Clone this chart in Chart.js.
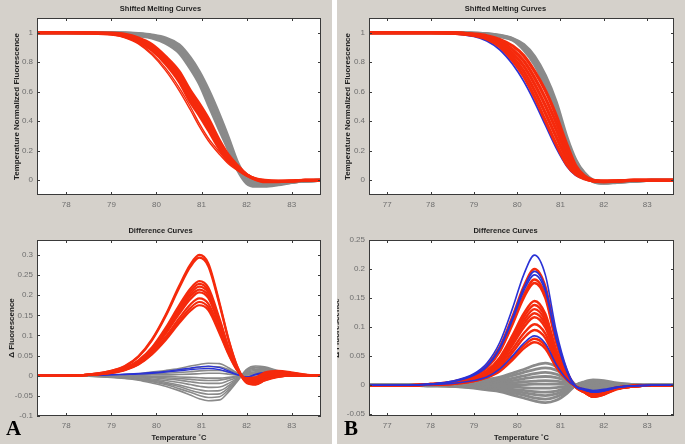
<!DOCTYPE html>
<html>
<head>
<meta charset="utf-8">
<script src="https://cdn.jsdelivr.net/npm/chart.js@4.4.0/dist/chart.umd.min.js"></script>
<style>
  body { margin: 0; background: #d5d1cb; }
  #wrap { position: relative; width: 685px; height: 444px; overflow: hidden; background: #d5d1cb; }
  .box { position: absolute; }
  .box canvas { display: block; }
  .sep { position: absolute; left: 332px; top: 0; width: 5px; height: 444px; background: #fff; }
  .tag { position: absolute; font: bold 21px "Liberation Serif", serif; color: #000; line-height: 1; }
</style>
</head>
<body>
<div id="wrap">
  <div class="box" style="left:0;top:0"><canvas id="aTop" width="332" height="220"></canvas></div>
  <div class="box" style="left:0;top:220px"><canvas id="aBot" width="332" height="224"></canvas></div>
  <div class="box" style="left:337px;top:0"><canvas id="bTop" width="348" height="220"></canvas></div>
  <div class="box" style="left:337px;top:220px"><canvas id="bBot" width="348" height="224"></canvas></div>
  <div class="sep"></div>
  <div class="tag" style="left:6px;top:418px">A</div>
  <div class="tag" style="left:344px;top:418px">B</div>
</div>
<script>
// temperatures (deg C) used for every curve of a panel
const tempA = [77.3, 78, 78.5, 79, 79.3, 79.6, 79.9, 80.2, 80.5, 80.75, 80.95, 81.15, 81.4, 81.6, 81.8, 82, 82.2, 82.4, 82.7, 83, 83.3, 83.7];
const tempB = [76.5, 77, 77.5, 78, 78.5, 79, 79.3, 79.6, 79.9, 80.15, 80.4, 80.65, 80.9, 81.15, 81.35, 81.55, 81.75, 82, 82.3, 82.7, 83.1, 83.7];

// ticks
const ticksXA = [78, 79, 80, 81, 82, 83];
const ticksXB = [77, 78, 79, 80, 81, 82, 83];
const ticksMelt = [0, 0.2, 0.4, 0.6, 0.8, 1];
const ticksDiffA = [-0.1, -0.05, 0, 0.05, 0.1, 0.15, 0.2, 0.25, 0.3];
const ticksDiffB = [-0.05, 0, 0.05, 0.1, 0.15, 0.2, 0.25];

// A - shifted melting curves
const meltA_gray = [
  [1, 1, 1, 1, 1, 0.995, 0.985, 0.965, 0.918, 0.83, 0.735, 0.615, 0.44, 0.285, 0.12, 0.02, -0.015, -0.02, -0.015, -0.01, -0.005, 0],
  [1, 1, 1, 1, 0.998, 0.992, 0.98, 0.956, 0.904, 0.81, 0.714, 0.59, 0.415, 0.265, 0.107, 0.008, -0.022, -0.025, -0.02, -0.011, -0.005, 0],
  [1, 1, 1, 0.998, 0.995, 0.988, 0.975, 0.948, 0.892, 0.793, 0.694, 0.565, 0.39, 0.245, 0.095, 0, -0.028, -0.03, -0.022, -0.012, -0.005, 0],
  [1, 1, 1, 0.997, 0.993, 0.984, 0.97, 0.94, 0.879, 0.776, 0.674, 0.54, 0.365, 0.225, 0.083, -0.01, -0.034, -0.035, -0.026, -0.013, -0.005, 0],
  [1, 1, 1, 0.995, 0.99, 0.98, 0.965, 0.93, 0.865, 0.758, 0.655, 0.515, 0.34, 0.205, 0.07, -0.02, -0.04, -0.04, -0.03, -0.015, -0.005, 0]
];
const meltA_red = [
  [1, 1, 1, 0.998, 0.99, 0.965, 0.92, 0.84, 0.74, 0.61, 0.52, 0.42, 0.27, 0.17, 0.1, 0.04, 0.01, 0, -0.005, -0.005, 0, 0],
  [1, 1, 0.999, 0.995, 0.985, 0.957, 0.907, 0.823, 0.717, 0.583, 0.493, 0.393, 0.25, 0.157, 0.093, 0.038, 0.008, -0.003, -0.007, -0.005, 0, 0],
  [1, 1, 0.999, 0.993, 0.98, 0.948, 0.893, 0.807, 0.693, 0.557, 0.467, 0.367, 0.23, 0.143, 0.087, 0.037, 0.007, -0.007, -0.008, -0.005, 0, 0],
  [1, 1, 0.998, 0.99, 0.975, 0.94, 0.88, 0.79, 0.67, 0.53, 0.44, 0.34, 0.21, 0.13, 0.08, 0.035, 0.005, -0.01, -0.01, -0.005, 0, 0]
];
const meltA_redThin = [
  [1, 1, 0.998, 0.99, 0.97, 0.93, 0.86, 0.76, 0.63, 0.5, 0.385, 0.285, 0.19, 0.12, 0.07, 0.03, 0.005, -0.005, -0.01, -0.005, 0, 0],
  [1, 1, 0.998, 0.988, 0.966, 0.925, 0.85, 0.745, 0.61, 0.478, 0.365, 0.268, 0.175, 0.11, 0.065, 0.028, 0.004, -0.006, -0.01, -0.005, 0, 0]
];

// A - difference curves
const diffA_red = [
  [0, 0, 0.003, 0.012, 0.024, 0.048, 0.09, 0.15, 0.222, 0.276, 0.3, 0.279, 0.18, 0.09, 0.021, -0.015, -0.02, -0.01, -0.002, 0, 0, 0],
  [0, 0, 0.003, 0.012, 0.023, 0.047, 0.088, 0.147, 0.217, 0.27, 0.293, 0.272, 0.176, 0.088, 0.02, -0.016, -0.021, -0.011, -0.002, 0, 0, 0],
  [0, 0, 0.002, 0.009, 0.019, 0.038, 0.07, 0.118, 0.174, 0.216, 0.235, 0.219, 0.141, 0.07, 0.016, -0.018, -0.022, -0.012, -0.003, 0, 0, 0],
  [0, 0, 0.002, 0.009, 0.018, 0.036, 0.068, 0.114, 0.169, 0.21, 0.228, 0.212, 0.137, 0.068, 0.016, -0.016, -0.02, -0.01, -0.002, 0, 0, 0],
  [0, 0, 0.002, 0.009, 0.018, 0.035, 0.066, 0.11, 0.164, 0.203, 0.221, 0.206, 0.133, 0.066, 0.015, -0.014, -0.018, -0.008, 0, 0.002, 0, 0],
  [0, 0, 0.002, 0.009, 0.017, 0.034, 0.064, 0.107, 0.158, 0.197, 0.214, 0.199, 0.128, 0.064, 0.015, -0.012, -0.015, -0.005, 0.003, 0.003, 0.001, 0],
  [0, 0, 0.002, 0.008, 0.017, 0.033, 0.062, 0.104, 0.153, 0.19, 0.207, 0.193, 0.124, 0.062, 0.014, -0.011, -0.013, -0.003, 0.005, 0.004, 0.001, 0],
  [0, 0, 0.002, 0.008, 0.015, 0.031, 0.058, 0.096, 0.142, 0.177, 0.192, 0.179, 0.115, 0.058, 0.013, -0.01, -0.012, 0, 0.008, 0.006, 0.002, 0],
  [0, 0, 0.002, 0.007, 0.015, 0.029, 0.055, 0.092, 0.135, 0.168, 0.183, 0.17, 0.11, 0.055, 0.013, -0.008, -0.008, 0.004, 0.01, 0.007, 0.002, 0],
  [0, 0, 0.002, 0.007, 0.014, 0.028, 0.053, 0.088, 0.13, 0.161, 0.175, 0.163, 0.105, 0.053, 0.012, -0.006, -0.004, 0.008, 0.012, 0.008, 0.003, 0]
];
const diffA_gray = [
  [0, 0, 0.001, 0.002, 0.003, 0.005, 0.009, 0.013, 0.018, 0.024, 0.028, 0.031, 0.03, 0.02, 0.006, -0.005, -0.008, -0.006, -0.002, 0, 0, 0],
  [0, 0, 0, 0.001, 0.002, 0.004, 0.006, 0.01, 0.014, 0.018, 0.021, 0.023, 0.022, 0.015, 0.005, -0.004, -0.006, -0.004, -0.001, 0, 0, 0],
  [0, 0, 0, 0.001, 0.001, 0.002, 0.004, 0.006, 0.008, 0.01, 0.012, 0.013, 0.013, 0.009, 0.003, -0.002, -0.003, -0.002, 0, 0, 0, 0],
  [0, 0, 0, 0, 0, 0.001, 0.002, 0.002, 0.003, 0.004, 0.005, 0.006, 0.006, 0.004, 0.001, -0.001, -0.001, 0, 0, 0, 0, 0],
  [0, 0, 0, 0, 0, -0.001, -0.002, -0.002, -0.003, -0.004, -0.005, -0.006, -0.006, -0.004, -0.001, 0.002, 0.004, 0.004, 0.002, 0.001, 0, 0],
  [0, 0, 0, -0.001, -0.001, -0.002, -0.003, -0.005, -0.007, -0.009, -0.011, -0.012, -0.011, -0.007, -0.002, 0.004, 0.007, 0.007, 0.004, 0.002, 0, 0],
  [0, 0, 0, -0.001, -0.002, -0.003, -0.005, -0.008, -0.011, -0.015, -0.018, -0.019, -0.019, -0.012, -0.004, 0.006, 0.01, 0.01, 0.006, 0.002, 0, 0],
  [0, 0, -0.001, -0.002, -0.003, -0.005, -0.008, -0.012, -0.017, -0.022, -0.026, -0.029, -0.028, -0.019, -0.006, 0.008, 0.013, 0.013, 0.007, 0.003, 0.001, 0],
  [0, 0, -0.001, -0.002, -0.004, -0.007, -0.011, -0.016, -0.023, -0.03, -0.035, -0.038, -0.037, -0.025, -0.008, 0.01, 0.016, 0.016, 0.009, 0.003, 0.001, 0],
  [0, 0, -0.001, -0.003, -0.005, -0.008, -0.013, -0.019, -0.027, -0.036, -0.042, -0.046, -0.045, -0.03, -0.01, 0.012, 0.019, 0.018, 0.01, 0.004, 0.001, 0],
  [0, 0, -0.001, -0.003, -0.006, -0.01, -0.015, -0.022, -0.032, -0.041, -0.049, -0.054, -0.052, -0.035, -0.011, 0.014, 0.021, 0.02, 0.011, 0.004, 0.001, 0],
  [0, 0, -0.001, -0.004, -0.007, -0.011, -0.018, -0.026, -0.037, -0.048, -0.057, -0.062, -0.06, -0.04, -0.013, 0.016, 0.024, 0.022, 0.012, 0.005, 0.001, 0]
];
const diffA_blue = [
  [0.002, 0.002, 0.002, 0.003, 0.004, 0.006, 0.008, 0.011, 0.015, 0.019, 0.022, 0.024, 0.02, 0.012, 0.003, -0.004, 0.004, 0.008, 0.007, 0.003, 0.001, 0],
  [0.001, 0.001, 0.001, 0.002, 0.003, 0.004, 0.006, 0.009, 0.012, 0.015, 0.017, 0.018, 0.015, 0.009, 0.002, -0.003, 0.002, 0.006, 0.006, 0.003, 0.001, 0]
];

// B - shifted melting curves
const meltB_gray = [
  [1, 1, 1, 1, 1, 0.997, 0.993, 0.982, 0.96, 0.92, 0.84, 0.71, 0.53, 0.29, 0.14, 0.05, 0, -0.015, -0.012, -0.005, 0, 0],
  [1, 1, 1, 1, 1, 0.996, 0.992, 0.98, 0.957, 0.91, 0.825, 0.685, 0.5, 0.27, 0.13, 0.045, -0.003, -0.017, -0.013, -0.005, 0, 0],
  [1, 1, 1, 1, 1, 0.996, 0.991, 0.978, 0.953, 0.897, 0.805, 0.66, 0.472, 0.26, 0.12, 0.04, -0.005, -0.018, -0.013, -0.006, 0, 0],
  [1, 1, 1, 1, 1, 0.995, 0.99, 0.975, 0.95, 0.885, 0.785, 0.635, 0.445, 0.25, 0.11, 0.035, -0.008, -0.02, -0.014, -0.006, 0, 0]
];
const meltB_red = [
  [1, 1, 1, 1, 1, 0.991, 0.98, 0.955, 0.91, 0.845, 0.74, 0.608, 0.44, 0.24, 0.1, 0.03, 0, -0.005, -0.005, 0, 0, 0],
  [1, 1, 1, 1, 0.999, 0.989, 0.975, 0.943, 0.885, 0.81, 0.696, 0.557, 0.391, 0.206, 0.085, 0.025, -0.001, -0.006, -0.005, 0, 0, 0],
  [1, 1, 1, 1, 0.999, 0.987, 0.97, 0.93, 0.86, 0.775, 0.653, 0.507, 0.343, 0.173, 0.07, 0.02, -0.003, -0.008, -0.005, 0, 0, 0],
  [1, 1, 1, 1, 0.998, 0.984, 0.963, 0.917, 0.835, 0.74, 0.609, 0.456, 0.294, 0.139, 0.055, 0.015, -0.004, -0.009, -0.005, 0, 0, 0],
  [1, 1, 1, 1, 0.997, 0.981, 0.957, 0.905, 0.81, 0.705, 0.565, 0.405, 0.245, 0.105, 0.04, 0.01, -0.005, -0.01, -0.005, 0, 0, 0]
];
const meltB_blue = [
  [1, 1, 1, 1, 0.994, 0.975, 0.945, 0.885, 0.785, 0.672, 0.532, 0.375, 0.22, 0.094, 0.034, 0.008, -0.005, -0.01, -0.006, 0, 0, 0]
];

// B - difference curves
const diffB_red = [
  [0, 0, 0, 0.002, 0.006, 0.018, 0.034, 0.066, 0.12, 0.17, 0.2, 0.17, 0.084, 0.024, -0.003, -0.012, -0.019, -0.015, -0.006, -0.002, 0, 0],
  [0, 0, 0, 0.002, 0.005, 0.016, 0.031, 0.06, 0.109, 0.155, 0.182, 0.155, 0.076, 0.022, -0.003, -0.012, -0.019, -0.015, -0.006, -0.002, 0, 0],
  [0, 0, 0, 0.002, 0.005, 0.016, 0.03, 0.058, 0.106, 0.15, 0.176, 0.15, 0.074, 0.021, -0.003, -0.012, -0.02, -0.016, -0.006, -0.002, 0, 0],
  [0, 0, 0, 0.001, 0.004, 0.013, 0.025, 0.048, 0.087, 0.123, 0.145, 0.123, 0.061, 0.017, -0.003, -0.012, -0.02, -0.016, -0.007, -0.002, 0, 0],
  [0, 0, 0, 0.001, 0.004, 0.012, 0.023, 0.046, 0.083, 0.117, 0.138, 0.117, 0.058, 0.017, -0.003, -0.011, -0.019, -0.015, -0.006, -0.002, 0, 0],
  [0, 0, 0, 0.001, 0.004, 0.012, 0.022, 0.043, 0.079, 0.111, 0.131, 0.111, 0.055, 0.016, -0.003, -0.011, -0.018, -0.014, -0.006, -0.002, 0, 0],
  [0, 0, 0, 0.001, 0.004, 0.011, 0.021, 0.041, 0.074, 0.105, 0.124, 0.105, 0.052, 0.015, -0.002, -0.01, -0.017, -0.013, -0.005, -0.001, 0, 0],
  [0, 0, 0, 0.001, 0.004, 0.011, 0.02, 0.039, 0.07, 0.099, 0.117, 0.099, 0.049, 0.014, -0.002, -0.01, -0.016, -0.013, -0.005, -0.001, 0, 0],
  [0, 0, 0, 0.001, 0.003, 0.009, 0.018, 0.035, 0.063, 0.089, 0.105, 0.089, 0.044, 0.013, -0.002, -0.009, -0.015, -0.012, -0.005, -0.001, 0, 0],
  [0, 0, 0, 0.001, 0.003, 0.009, 0.016, 0.031, 0.057, 0.081, 0.095, 0.081, 0.04, 0.011, -0.002, -0.009, -0.014, -0.011, -0.004, -0.001, 0, 0],
  [0, 0, 0, 0.001, 0.002, 0.007, 0.014, 0.026, 0.048, 0.068, 0.08, 0.068, 0.034, 0.01, -0.002, -0.008, -0.013, -0.01, -0.004, -0.001, 0, 0],
  [0, 0, 0, 0.001, 0.002, 0.007, 0.013, 0.024, 0.044, 0.063, 0.074, 0.063, 0.031, 0.009, -0.002, -0.008, -0.012, -0.01, -0.004, -0.001, 0, 0]
];
const diffB_gray = [
  [0, 0, 0, 0.001, 0.003, 0.007, 0.01, 0.014, 0.021, 0.027, 0.034, 0.038, 0.032, 0.017, 0, -0.008, -0.011, -0.01, -0.005, -0.002, 0, 0],
  [0, 0, 0, 0.001, 0.002, 0.005, 0.008, 0.011, 0.017, 0.022, 0.027, 0.03, 0.026, 0.014, 0, -0.006, -0.009, -0.008, -0.004, -0.001, 0, 0],
  [0, 0, 0, 0.001, 0.002, 0.004, 0.006, 0.008, 0.012, 0.016, 0.02, 0.022, 0.019, 0.01, 0, -0.004, -0.007, -0.006, -0.003, -0.001, 0, 0],
  [0, 0, 0, 0, 0.001, 0.003, 0.004, 0.006, 0.008, 0.011, 0.014, 0.015, 0.013, 0.007, 0, -0.003, -0.005, -0.004, -0.002, -0.001, 0, 0],
  [0, 0, 0, 0, 0.001, 0.001, 0.002, 0.003, 0.004, 0.006, 0.007, 0.008, 0.007, 0.004, 0, -0.002, -0.002, -0.002, -0.001, 0, 0, 0],
  [0, 0, 0, 0, 0, 0, 0.001, 0.001, 0.001, 0.001, 0.002, 0.002, 0.002, 0.001, 0, 0, -0.001, 0, 0, 0, 0, 0],
  [0, 0, 0, 0, 0, -0.001, -0.001, -0.002, -0.003, -0.004, -0.005, -0.005, -0.004, -0.002, 0, 0.001, 0.002, 0.001, 0.001, 0, 0, 0],
  [0, 0, 0, 0, -0.001, -0.002, -0.003, -0.005, -0.007, -0.009, -0.011, -0.012, -0.01, -0.005, 0, 0.002, 0.004, 0.003, 0.001, 0, 0, 0],
  [0, 0, 0, -0.001, -0.001, -0.003, -0.005, -0.007, -0.01, -0.013, -0.016, -0.018, -0.015, -0.008, 0, 0.004, 0.005, 0.005, 0.002, 0.001, 0, 0],
  [0, 0, 0, -0.001, -0.002, -0.004, -0.006, -0.009, -0.013, -0.017, -0.022, -0.024, -0.02, -0.011, 0, 0.005, 0.007, 0.006, 0.003, 0.001, 0, 0],
  [0, 0, 0, -0.001, -0.002, -0.005, -0.008, -0.011, -0.017, -0.022, -0.027, -0.03, -0.026, -0.014, 0, 0.006, 0.009, 0.008, 0.004, 0.001, 0, 0]
];
const diffB_blue = [
  [0, 0, 0, 0.002, 0.007, 0.02, 0.038, 0.074, 0.134, 0.19, 0.224, 0.19, 0.094, 0.027, -0.002, -0.008, -0.012, -0.01, -0.004, -0.001, 0, 0],
  [0, 0, 0, 0.002, 0.006, 0.018, 0.033, 0.065, 0.118, 0.167, 0.196, 0.167, 0.082, 0.024, -0.002, -0.008, -0.012, -0.01, -0.004, -0.001, 0, 0],
  [0, 0, 0, 0.002, 0.006, 0.017, 0.032, 0.063, 0.114, 0.162, 0.19, 0.162, 0.08, 0.023, -0.002, -0.008, -0.011, -0.009, -0.004, -0.001, 0, 0],
  [0, 0, 0, 0.001, 0.003, 0.008, 0.014, 0.028, 0.051, 0.072, 0.085, 0.072, 0.036, 0.01, -0.002, -0.006, -0.009, -0.007, -0.003, -0.001, 0, 0]
];

const RED = "#f52a0c";
const GRAY = "#8a8a8a";
const BLUE = "#2a32d6";
const FONT = "Liberation Sans";

function curves(xs, list, color, width, order) {
  return list.map(function (ys) {
    return {
      data: xs.map(function (x, i) { return { x: x, y: ys[i] }; }),
      borderColor: color,
      borderWidth: width,
      pointRadius: 0,
      fill: false,
      cubicInterpolationMode: "monotone",
      order: order,
    };
  });
}

// white plot box, dark frame and inward tick marks like matlab
const frame = {
  id: "frame",
  beforeDatasetsDraw: function (chart) {
    const a = chart.chartArea;
    const ctx = chart.ctx;
    ctx.save();
    ctx.fillStyle = "#ffffff";
    ctx.fillRect(a.left, a.top, a.right - a.left, a.bottom - a.top);
    ctx.restore();
  },
  afterDatasetsDraw: function (chart) {
    const a = chart.chartArea;
    const ctx = chart.ctx;
    const x = chart.scales.x;
    const y = chart.scales.y;
    ctx.save();
    ctx.strokeStyle = "#3a3a3a";
    ctx.lineWidth = 1;
    ctx.beginPath();
    x.ticks.forEach(function (t) {
      const px = Math.round(x.getPixelForValue(t.value)) + 0.5;
      ctx.moveTo(px, a.bottom); ctx.lineTo(px, a.bottom - 3);
      ctx.moveTo(px, a.top); ctx.lineTo(px, a.top + 3);
    });
    y.ticks.forEach(function (t) {
      const py = Math.round(y.getPixelForValue(t.value)) + 0.5;
      ctx.moveTo(a.left, py); ctx.lineTo(a.left + 3, py);
      ctx.moveTo(a.right, py); ctx.lineTo(a.right - 3, py);
    });
    ctx.stroke();
    ctx.strokeRect(Math.round(a.left) + 0.5, Math.round(a.top) + 0.5,
      Math.round(a.right - a.left) - 1, Math.round(a.bottom - a.top) - 1);
    ctx.restore();
  },
};

function panel(id, p) {
  new Chart(document.getElementById(id), {
    type: "line",
    data: { datasets: p.datasets },
    options: {
      responsive: false,
      animation: false,
      devicePixelRatio: 1,
      layout: { padding: { left: 0, right: 11, top: 0, bottom: 0 } },
      plugins: {
        legend: { display: false },
        tooltip: { enabled: false },
        title: {
          display: true,
          text: p.title,
          color: "#1e1e1e",
          font: { family: FONT, size: 7.5, weight: "bold", lineHeight: "10px" },
          padding: p.titlePad,
        },
      },
      scales: {
        x: {
          type: "linear",
          min: p.xMin,
          max: p.xMax,
          grid: { display: false, drawTicks: false },
          border: { display: false },
          ticks: {
            color: "#6e6e6e",
            font: { family: FONT, size: 8 },
            padding: 5,
            maxRotation: 0,
            autoSkip: false,
            callback: function (v) { return String(v); },
          },
          afterBuildTicks: function (s) { s.ticks = p.xTicks.map(function (v) { return { value: v }; }); },
          afterFit: function (s) { s.height = p.xHeight; },
          title: {
            display: !!p.xTitle,
            text: p.xTitle || "",
            color: "#1e1e1e",
            font: { family: FONT, size: 7.5, weight: "bold", lineHeight: "10px" },
            padding: { top: 0, bottom: 1 },
          },
        },
        y: {
          type: "linear",
          min: p.yMin,
          max: p.yMax,
          grid: { display: false, drawTicks: false },
          border: { display: false },
          ticks: {
            color: "#6e6e6e",
            font: { family: FONT, size: 8 },
            padding: 4,
            autoSkip: false,
            callback: function (v) { return String(v); },
          },
          afterBuildTicks: function (s) { s.ticks = p.yTicks.map(function (v) { return { value: v }; }); },
          afterFit: function (s) { s.width = p.yWidth; },
          title: {
            display: true,
            text: p.yTitle,
            color: "#1e1e1e",
            font: { family: FONT, size: 8, weight: "bold", lineHeight: "10px" },
            padding: { top: p.yTitlePad, bottom: 0 },
          },
        },
      },
    },
    plugins: [frame],
  });
}

panel("aTop", {
  title: "Shifted Melting Curves", titlePad: { top: 4, bottom: 4 },
  xMin: 77.35, xMax: 83.65, xTicks: ticksXA, xHeight: 25,
  yMin: -0.1, yMax: 1.1, yTicks: ticksMelt, yWidth: 37,
  yTitle: "Temperature Normalized Fluorescence", yTitlePad: 12,
  datasets: [].concat(
    curves(tempA, meltA_red, RED, 3, 1),
    curves(tempA, meltA_redThin, RED, 1.4, 1),
    curves(tempA, meltA_gray, GRAY, 3.2, 3)
  ),
});

panel("aBot", {
  title: "Difference Curves", titlePad: { top: 6, bottom: 4 },
  xMin: 77.35, xMax: 83.65, xTicks: ticksXA, xHeight: 28, xTitle: "Temperature \u02daC",
  yMin: -0.1, yMax: 0.337, yTicks: ticksDiffA, yWidth: 37,
  yTitle: "\u0394 Fluorescence", yTitlePad: 7,
  datasets: [].concat(
    curves(tempA, diffA_red, RED, 2.2, 1),
    curves(tempA, diffA_blue, BLUE, 1.3, 2),
    curves(tempA, diffA_gray, GRAY, 1.6, 3)
  ),
});

panel("bTop", {
  title: "Shifted Melting Curves", titlePad: { top: 4, bottom: 4 },
  xMin: 76.58, xMax: 83.62, xTicks: ticksXB, xHeight: 25,
  yMin: -0.1, yMax: 1.1, yTicks: ticksMelt, yWidth: 32,
  yTitle: "Temperature Normalized Fluorescence", yTitlePad: 6,
  datasets: [].concat(
    curves(tempB, meltB_red, RED, 3.2, 1),
    curves(tempB, meltB_blue, BLUE, 1.8, 2),
    curves(tempB, meltB_gray, GRAY, 3.2, 3)
  ),
});

panel("bBot", {
  title: "Difference Curves", titlePad: { top: 6, bottom: 4 },
  xMin: 76.58, xMax: 83.62, xTicks: ticksXB, xHeight: 28, xTitle: "Temperature \u02daC",
  yMin: -0.053, yMax: 0.25, yTicks: ticksDiffB, yWidth: 32,
  yTitle: "\u0394 Fluorescence", yTitlePad: -5,
  datasets: [].concat(
    curves(tempB, diffB_blue, BLUE, 1.6, 1),
    curves(tempB, diffB_red, RED, 2.4, 2),
    curves(tempB, diffB_gray, GRAY, 2.8, 3)
  ),
});
</script>
</body>
</html>
